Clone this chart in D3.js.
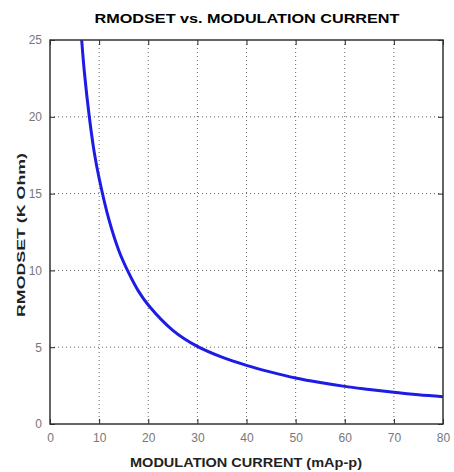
<!DOCTYPE html>
<html>
<head>
<meta charset="utf-8">
<script src="https://d3js.org/d3.v7.min.js"></script>
<style>
    body { margin: 0; background: #fff; }
    text { font-family: "Liberation Sans", Arial, sans-serif; }
</style>
</head>
<body>
<svg></svg>
<script>
// data
const current = [6.45, 7, 8, 9, 10, 12, 14, 16, 18, 20, 25, 30, 35, 40, 45, 50, 55, 60, 65, 70, 75, 80];
const rmodset = [25, 22.9, 20.0, 17.7, 16.0, 13.3, 11.3, 9.85, 8.65, 7.75, 6.1, 5.05, 4.35, 3.82, 3.38, 3.0, 2.7, 2.45, 2.25, 2.06, 1.9, 1.78];
const xTicks = [0, 10, 20, 30, 40, 50, 60, 70, 80];
const yTicks = [0, 5, 10, 15, 20, 25];

const W = 454, H = 472;
const plotL = 50, plotR = 443, plotT = 40, plotB = 424;

var svg = d3.select("svg").attr("width", W).attr("height", H);

var x = d3.scaleLinear().domain([0, 80]).range([plotL, plotR]);
var y = d3.scaleLinear().domain([0, 25]).range([plotB, plotT]);

// dotted grid
svg.append("g").selectAll("line")
    .data(xTicks.slice(1, -1)).enter().append("line")
    .attr("x1", d => x(d)).attr("x2", d => x(d))
    .attr("y1", plotT).attr("y2", plotB)
    .attr("stroke", "#666").attr("stroke-width", 1).attr("stroke-dasharray", "1,3");
svg.append("g").selectAll("line")
    .data(yTicks.slice(1, -1)).enter().append("line")
    .attr("y1", d => y(d)).attr("y2", d => y(d))
    .attr("x1", plotL).attr("x2", plotR)
    .attr("stroke", "#666").attr("stroke-width", 1).attr("stroke-dasharray", "1,3");

// axes, ticks pointing inward
svg.append("g")
    .attr("transform", "translate(0," + plotB + ")")
    .call(d3.axisBottom(x).tickValues(xTicks).tickSize(-5).tickPadding(9))
    .call(g => g.select(".domain").remove());
svg.append("g")
    .attr("transform", "translate(0," + plotT + ")")
    .call(d3.axisTop(x).tickValues(xTicks).tickSize(-5).tickFormat(""))
    .call(g => g.select(".domain").remove());
svg.append("g")
    .attr("transform", "translate(" + plotL + ",0)")
    .call(d3.axisLeft(y).tickValues(yTicks).tickSize(-5).tickPadding(8))
    .call(g => g.select(".domain").remove());
svg.append("g")
    .attr("transform", "translate(" + plotR + ",0)")
    .call(d3.axisRight(y).tickValues(yTicks).tickSize(-5).tickFormat(""))
    .call(g => g.select(".domain").remove());

svg.selectAll(".tick line").attr("stroke", "#222");
svg.selectAll(".tick text").attr("fill", "#777").style("font-size", "12px");

// curve
var line = d3.line()
    .x((d, i) => x(current[i]))
    .y(d => y(d))
    .curve(d3.curveCatmullRom);
svg.append("path")
    .datum(rmodset)
    .attr("d", line)
    .attr("fill", "none")
    .attr("stroke", "#1c1ce6")
    .attr("stroke-width", 3);

// frame
svg.append("rect")
    .attr("x", plotL).attr("y", plotT)
    .attr("width", plotR - plotL).attr("height", plotB - plotT)
    .attr("fill", "none").attr("stroke", "#333").attr("stroke-width", 1.5);

// titles
svg.append("text")
    .attr("x", 247).attr("y", 23)
    .attr("text-anchor", "middle")
    .style("font-size", "13px").style("font-weight", "bold")
    .attr("textLength", 305).attr("lengthAdjust", "spacingAndGlyphs")
    .text("RMODSET vs. MODULATION CURRENT");
svg.append("text")
    .attr("x", 246).attr("y", 467)
    .attr("text-anchor", "middle")
    .style("font-size", "12px").style("font-weight", "bold")
    .attr("fill", "#222")
    .attr("textLength", 232).attr("lengthAdjust", "spacingAndGlyphs")
    .text("MODULATION CURRENT (mAp-p)");
svg.append("text")
    .attr("transform", "translate(25,235) rotate(-90)")
    .attr("text-anchor", "middle")
    .style("font-size", "11px").style("font-weight", "bold")
    .attr("fill", "#222")
    .attr("textLength", 164).attr("lengthAdjust", "spacingAndGlyphs")
    .text("RMODSET (K Ohm)");
</script>
</body>
</html>
